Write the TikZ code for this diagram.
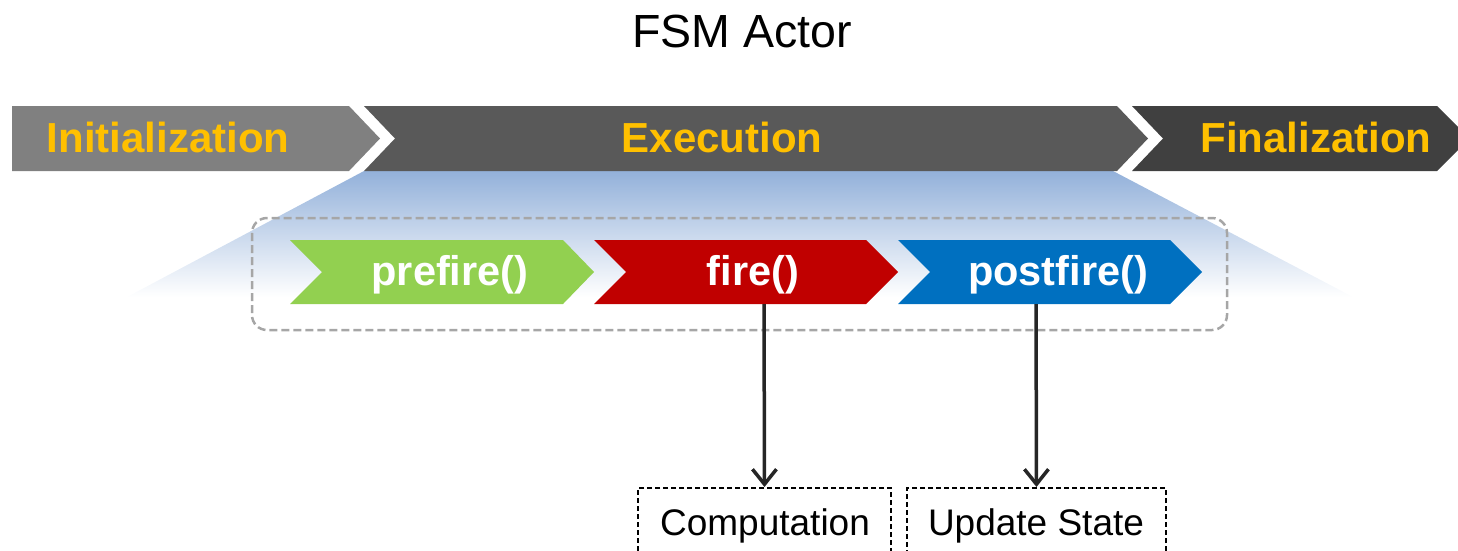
\documentclass[tikz,border=0pt]{standalone}
\usepackage{fontspec}
\setmainfont{Liberation Sans}
\usetikzlibrary{arrows.meta}
\definecolor{phaseInit}{HTML}{808080}
\definecolor{phaseExec}{HTML}{595959}
\definecolor{phaseFinal}{HTML}{404040}
\definecolor{phaseText}{HTML}{FFC000}
\definecolor{preGreen}{HTML}{92D050}
\definecolor{fireRed}{HTML}{C00000}
\definecolor{postBlue}{HTML}{0070C0}
\definecolor{fanBlue}{HTML}{93B1DA}
\definecolor{groupGray}{HTML}{A6A6A6}
\definecolor{arrowDark}{HTML}{262626}
\tikzset{
  phaselabel/.style={anchor=base, text=phaseText, inner sep=0pt,
    font=\fontsize{42}{42}\selectfont\bfseries},
  steplabel/.style={anchor=base, text=white, inner sep=0pt,
    font=\fontsize{41.5}{41.5}\selectfont\bfseries},
  groupbox/.style={draw=groupGray, line width=2.5pt, dash pattern=on 8pt off 4pt,
    rounded corners=15pt},
  outbox/.style={draw=black, line width=2.2pt, dash pattern=on 5pt off 3pt,
    anchor=north, inner sep=0pt},
  outlabel/.style={anchor=base, inner sep=0pt, font=\fontsize{37}{37}\selectfont},
  callarrow/.style={draw=arrowDark, line width=3.5pt,
    -{Straight Barb[length=15pt,width=24pt]}},
}
\begin{document}
\begin{tikzpicture}[x=1pt, y=-1pt]
\useasboundingbox (0,0) rectangle (1458,550);
\clip (0,0) rectangle (1458,550);

% title
\node[anchor=base, inner sep=0pt, font=\fontsize{46.5}{46.5}\selectfont] (title) at (742,47) {FSM Actor};

% fan from the Execution phase down to the actor steps
\shade[top color=fanBlue, bottom color=white]
  (364,171) -- (1113,171) -- (1353,297) -- (127,297) -- cycle;

% life-cycle phases
\fill[phaseInit] (12,106) -- (349,106) -- (380,138.5) -- (349,171) -- (12,171) -- cycle;
\fill[phaseExec] (364,106) -- (1117,106) -- (1148,138.5) -- (1117,171) -- (364,171) -- (395,138.5) -- cycle;
\fill[phaseFinal] (1132,106) -- (1437,106) -- (1469.5,138.5) -- (1437,171) -- (1132,171) -- (1163,138.5) -- cycle;
\node[phaselabel] (init)  at (168,152)  {Initialization};
\node[phaselabel] (exec)  at (722,152)  {Execution};
\node[phaselabel] (final) at (1316,152) {Finalization};

% iteration group
\draw[groupbox] (252,218) rectangle (1227,330);

% iteration steps
\fill[preGreen] (290,240) -- (563,240) -- (594,272) -- (563,304) -- (290,304) -- (322,272) -- cycle;
\fill[fireRed] (594,240) -- (866,240) -- (898,272) -- (866,304) -- (594,304) -- (626,272) -- cycle;
\fill[postBlue] (898,240) -- (1170,240) -- (1202,272) -- (1170,304) -- (898,304) -- (930,272) -- cycle;
\node[steplabel] (prefire)  at (450,285)  {prefire()};
\node[steplabel] (fire)     at (753,285)  {fire()};
\node[steplabel] (postfire) at (1058,285) {postfire()};

\coordinate (firebot) at (764,304);
\coordinate (postbot) at (1036,304);

% what each step does
\node[outbox, minimum width=253pt, minimum height=100pt] (comp) at (764.5,487) {};
\node[outbox, minimum width=259pt, minimum height=100pt] (upd) at (1036.5,487) {};
\node[outlabel] (comptext) at (765,535) {Computation};
\node[outlabel] (updtext) at (1036,535) {Update State};

\draw[callarrow] (firebot) -- (comp.north);
\draw[callarrow] (postbot) -- (upd.north);
\end{tikzpicture}
\end{document}
